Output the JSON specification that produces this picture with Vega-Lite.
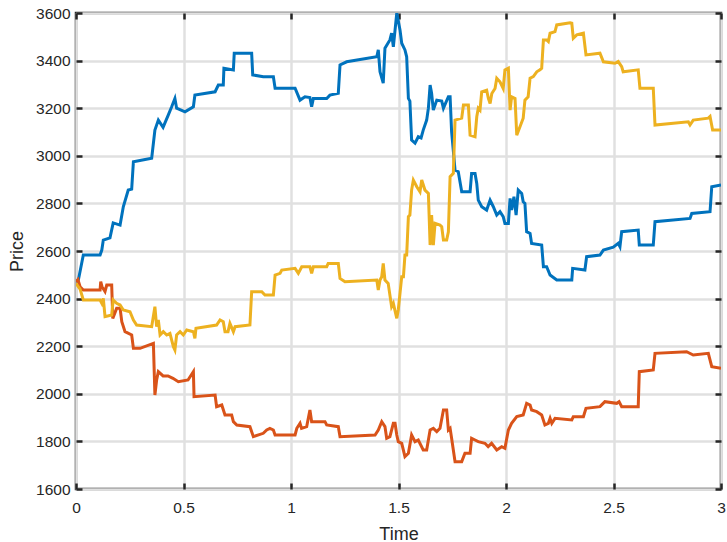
{
  "$schema": "https://vega.github.io/schema/vega-lite/v6.json",
  "width": 645,
  "height": 476,
  "autosize": {"type": "none"},
  "padding": {"left": 76, "top": 13, "right": 6, "bottom": 53},
  "background": "white",
  "config": {
    "view": {"stroke": "#262626", "strokeWidth": 2.5},
    "font": "Liberation Sans",
    "axis": {
      "labelFont": "Liberation Sans",
      "labelFontSize": 15.5,
      "labelColor": "#262626",
      "titleFont": "Liberation Sans",
      "titleFontSize": 18,
      "titleFontWeight": "normal",
      "titleColor": "#262626",
      "domain": false,
      "tickColor": "#262626",
      "tickWidth": 2.5,
      "tickSize": -6,
      "gridColor": "#e0e0e0",
      "gridWidth": 2.5
    }
  },
  "data": {
    "values": [
      {"s":"A","t":0,"p":2470},{"s":"A","t":0.011,"p":2478},{"s":"A","t":0.034,"p":2583},{"s":"A","t":0.112,"p":2583},{"s":"A","t":0.12,"p":2604},{"s":"A","t":0.127,"p":2646},{"s":"A","t":0.158,"p":2655},{"s":"A","t":0.173,"p":2718},{"s":"A","t":0.205,"p":2709},{"s":"A","t":0.22,"p":2786},{"s":"A","t":0.243,"p":2856},{"s":"A","t":0.259,"p":2860},{"s":"A","t":0.267,"p":2975},{"s":"A","t":0.352,"p":2990},{"s":"A","t":0.367,"p":3108},{"s":"A","t":0.383,"p":3150},{"s":"A","t":0.405,"p":3120},{"s":"A","t":0.429,"p":3171},{"s":"A","t":0.445,"p":3206},{"s":"A","t":0.46,"p":3241},{"s":"A","t":0.468,"p":3200},{"s":"A","t":0.507,"p":3185},{"s":"A","t":0.546,"p":3206},{"s":"A","t":0.553,"p":3255},{"s":"A","t":0.647,"p":3269},{"s":"A","t":0.662,"p":3297},{"s":"A","t":0.685,"p":3297},{"s":"A","t":0.688,"p":3368},{"s":"A","t":0.732,"p":3361},{"s":"A","t":0.736,"p":3431},{"s":"A","t":0.817,"p":3431},{"s":"A","t":0.822,"p":3340},{"s":"A","t":0.871,"p":3332},{"s":"A","t":0.918,"p":3332},{"s":"A","t":0.926,"p":3284},{"s":"A","t":1.019,"p":3284},{"s":"A","t":1.042,"p":3234},{"s":"A","t":1.065,"p":3248},{"s":"A","t":1.088,"p":3245},{"s":"A","t":1.096,"p":3206},{"s":"A","t":1.104,"p":3241},{"s":"A","t":1.166,"p":3241},{"s":"A","t":1.181,"p":3255},{"s":"A","t":1.22,"p":3263},{"s":"A","t":1.228,"p":3382},{"s":"A","t":1.259,"p":3395},{"s":"A","t":1.399,"p":3416},{"s":"A","t":1.406,"p":3445},{"s":"A","t":1.414,"p":3353},{"s":"A","t":1.429,"p":3305},{"s":"A","t":1.437,"p":3452},{"s":"A","t":1.46,"p":3487},{"s":"A","t":1.468,"p":3515},{"s":"A","t":1.476,"p":3458},{"s":"A","t":1.492,"p":3600},{"s":"A","t":1.507,"p":3529},{"s":"A","t":1.515,"p":3473},{"s":"A","t":1.53,"p":3445},{"s":"A","t":1.538,"p":3416},{"s":"A","t":1.546,"p":3241},{"s":"A","t":1.553,"p":3230},{"s":"A","t":1.561,"p":3066},{"s":"A","t":1.577,"p":3053},{"s":"A","t":1.592,"p":3080},{"s":"A","t":1.605,"p":3075},{"s":"A","t":1.615,"p":3108},{"s":"A","t":1.631,"p":3150},{"s":"A","t":1.639,"p":3200},{"s":"A","t":1.647,"p":3297},{"s":"A","t":1.654,"p":3263},{"s":"A","t":1.662,"p":3192},{"s":"A","t":1.678,"p":3234},{"s":"A","t":1.701,"p":3230},{"s":"A","t":1.709,"p":3200},{"s":"A","t":1.732,"p":3248},{"s":"A","t":1.74,"p":3248},{"s":"A","t":1.747,"p":3101},{"s":"A","t":1.763,"p":2940},{"s":"A","t":1.778,"p":2933},{"s":"A","t":1.794,"p":2849},{"s":"A","t":1.833,"p":2849},{"s":"A","t":1.84,"p":2926},{"s":"A","t":1.856,"p":2926},{"s":"A","t":1.864,"p":2884},{"s":"A","t":1.871,"p":2814},{"s":"A","t":1.887,"p":2786},{"s":"A","t":1.91,"p":2772},{"s":"A","t":1.926,"p":2814},{"s":"A","t":1.941,"p":2786},{"s":"A","t":1.957,"p":2751},{"s":"A","t":1.972,"p":2765},{"s":"A","t":1.987,"p":2744},{"s":"A","t":1.995,"p":2716},{"s":"A","t":2.011,"p":2716},{"s":"A","t":2.019,"p":2821},{"s":"A","t":2.026,"p":2772},{"s":"A","t":2.037,"p":2828},{"s":"A","t":2.047,"p":2751},{"s":"A","t":2.057,"p":2856},{"s":"A","t":2.073,"p":2842},{"s":"A","t":2.08,"p":2807},{"s":"A","t":2.088,"p":2800},{"s":"A","t":2.096,"p":2681},{"s":"A","t":2.112,"p":2674},{"s":"A","t":2.119,"p":2632},{"s":"A","t":2.166,"p":2625},{"s":"A","t":2.174,"p":2534},{"s":"A","t":2.189,"p":2534},{"s":"A","t":2.205,"p":2499},{"s":"A","t":2.236,"p":2478},{"s":"A","t":2.306,"p":2478},{"s":"A","t":2.31,"p":2527},{"s":"A","t":2.367,"p":2520},{"s":"A","t":2.375,"p":2576},{"s":"A","t":2.437,"p":2583},{"s":"A","t":2.453,"p":2604},{"s":"A","t":2.499,"p":2616},{"s":"A","t":2.522,"p":2632},{"s":"A","t":2.53,"p":2618},{"s":"A","t":2.538,"p":2681},{"s":"A","t":2.615,"p":2688},{"s":"A","t":2.62,"p":2625},{"s":"A","t":2.685,"p":2625},{"s":"A","t":2.693,"p":2723},{"s":"A","t":2.856,"p":2737},{"s":"A","t":2.864,"p":2758},{"s":"A","t":2.949,"p":2765},{"s":"A","t":2.957,"p":2870},{"s":"A","t":3.0,"p":2877},

      {"s":"B","t":0,"p":2470},{"s":"B","t":0.009,"p":2480},{"s":"B","t":0.019,"p":2450},{"s":"B","t":0.034,"p":2436},{"s":"B","t":0.112,"p":2436},{"s":"B","t":0.115,"p":2471},{"s":"B","t":0.121,"p":2450},{"s":"B","t":0.135,"p":2430},{"s":"B","t":0.143,"p":2457},{"s":"B","t":0.166,"p":2457},{"s":"B","t":0.171,"p":2317},{"s":"B","t":0.189,"p":2359},{"s":"B","t":0.205,"p":2359},{"s":"B","t":0.213,"p":2303},{"s":"B","t":0.228,"p":2261},{"s":"B","t":0.259,"p":2247},{"s":"B","t":0.267,"p":2191},{"s":"B","t":0.298,"p":2191},{"s":"B","t":0.36,"p":2212},{"s":"B","t":0.367,"p":1995},{"s":"B","t":0.375,"p":2058},{"s":"B","t":0.383,"p":2093},{"s":"B","t":0.405,"p":2075},{"s":"B","t":0.428,"p":2075},{"s":"B","t":0.451,"p":2065},{"s":"B","t":0.476,"p":2051},{"s":"B","t":0.521,"p":2058},{"s":"B","t":0.546,"p":2093},{"s":"B","t":0.549,"p":1988},{"s":"B","t":0.647,"p":1995},{"s":"B","t":0.654,"p":1946},{"s":"B","t":0.678,"p":1953},{"s":"B","t":0.693,"p":1911},{"s":"B","t":0.724,"p":1911},{"s":"B","t":0.732,"p":1883},{"s":"B","t":0.748,"p":1869},{"s":"B","t":0.809,"p":1862},{"s":"B","t":0.825,"p":1820},{"s":"B","t":0.871,"p":1834},{"s":"B","t":0.887,"p":1848},{"s":"B","t":0.902,"p":1855},{"s":"B","t":0.918,"p":1848},{"s":"B","t":0.926,"p":1827},{"s":"B","t":1.019,"p":1827},{"s":"B","t":1.027,"p":1855},{"s":"B","t":1.042,"p":1876},{"s":"B","t":1.049,"p":1855},{"s":"B","t":1.073,"p":1862},{"s":"B","t":1.088,"p":1932},{"s":"B","t":1.096,"p":1883},{"s":"B","t":1.158,"p":1883},{"s":"B","t":1.166,"p":1869},{"s":"B","t":1.22,"p":1862},{"s":"B","t":1.228,"p":1820},{"s":"B","t":1.391,"p":1827},{"s":"B","t":1.406,"p":1848},{"s":"B","t":1.422,"p":1883},{"s":"B","t":1.437,"p":1862},{"s":"B","t":1.445,"p":1813},{"s":"B","t":1.46,"p":1820},{"s":"B","t":1.476,"p":1876},{"s":"B","t":1.484,"p":1876},{"s":"B","t":1.492,"p":1827},{"s":"B","t":1.499,"p":1799},{"s":"B","t":1.515,"p":1792},{"s":"B","t":1.53,"p":1736},{"s":"B","t":1.546,"p":1750},{"s":"B","t":1.561,"p":1827},{"s":"B","t":1.577,"p":1799},{"s":"B","t":1.592,"p":1806},{"s":"B","t":1.615,"p":1764},{"s":"B","t":1.631,"p":1764},{"s":"B","t":1.647,"p":1848},{"s":"B","t":1.662,"p":1855},{"s":"B","t":1.678,"p":1841},{"s":"B","t":1.693,"p":1855},{"s":"B","t":1.709,"p":1932},{"s":"B","t":1.724,"p":1932},{"s":"B","t":1.732,"p":1848},{"s":"B","t":1.74,"p":1855},{"s":"B","t":1.747,"p":1813},{"s":"B","t":1.763,"p":1715},{"s":"B","t":1.794,"p":1715},{"s":"B","t":1.809,"p":1750},{"s":"B","t":1.833,"p":1750},{"s":"B","t":1.84,"p":1813},{"s":"B","t":1.856,"p":1806},{"s":"B","t":1.871,"p":1799},{"s":"B","t":1.902,"p":1792},{"s":"B","t":1.917,"p":1778},{"s":"B","t":1.933,"p":1792},{"s":"B","t":1.957,"p":1764},{"s":"B","t":1.98,"p":1778},{"s":"B","t":1.995,"p":1771},{"s":"B","t":2.011,"p":1848},{"s":"B","t":2.026,"p":1876},{"s":"B","t":2.05,"p":1904},{"s":"B","t":2.08,"p":1911},{"s":"B","t":2.096,"p":1960},{"s":"B","t":2.112,"p":1953},{"s":"B","t":2.119,"p":1932},{"s":"B","t":2.143,"p":1925},{"s":"B","t":2.166,"p":1911},{"s":"B","t":2.181,"p":1869},{"s":"B","t":2.197,"p":1876},{"s":"B","t":2.205,"p":1897},{"s":"B","t":2.213,"p":1876},{"s":"B","t":2.228,"p":1897},{"s":"B","t":2.306,"p":1890},{"s":"B","t":2.313,"p":1904},{"s":"B","t":2.36,"p":1904},{"s":"B","t":2.372,"p":1939},{"s":"B","t":2.437,"p":1946},{"s":"B","t":2.46,"p":1967},{"s":"B","t":2.515,"p":1960},{"s":"B","t":2.526,"p":1967},{"s":"B","t":2.538,"p":1946},{"s":"B","t":2.615,"p":1946},{"s":"B","t":2.62,"p":2093},{"s":"B","t":2.685,"p":2100},{"s":"B","t":2.693,"p":2170},{"s":"B","t":2.84,"p":2177},{"s":"B","t":2.871,"p":2163},{"s":"B","t":2.941,"p":2170},{"s":"B","t":2.957,"p":2114},{"s":"B","t":3.0,"p":2107},

      {"s":"C","t":0,"p":2464},{"s":"C","t":0.019,"p":2440},{"s":"C","t":0.034,"p":2394},{"s":"C","t":0.112,"p":2394},{"s":"C","t":0.12,"p":2380},{"s":"C","t":0.127,"p":2401},{"s":"C","t":0.135,"p":2324},{"s":"C","t":0.166,"p":2331},{"s":"C","t":0.173,"p":2394},{"s":"C","t":0.189,"p":2380},{"s":"C","t":0.205,"p":2373},{"s":"C","t":0.22,"p":2352},{"s":"C","t":0.251,"p":2345},{"s":"C","t":0.267,"p":2310},{"s":"C","t":0.282,"p":2289},{"s":"C","t":0.352,"p":2282},{"s":"C","t":0.367,"p":2366},{"s":"C","t":0.375,"p":2282},{"s":"C","t":0.383,"p":2310},{"s":"C","t":0.391,"p":2247},{"s":"C","t":0.406,"p":2261},{"s":"C","t":0.422,"p":2247},{"s":"C","t":0.437,"p":2254},{"s":"C","t":0.453,"p":2198},{"s":"C","t":0.46,"p":2184},{"s":"C","t":0.468,"p":2247},{"s":"C","t":0.484,"p":2261},{"s":"C","t":0.499,"p":2247},{"s":"C","t":0.515,"p":2268},{"s":"C","t":0.546,"p":2261},{"s":"C","t":0.553,"p":2233},{"s":"C","t":0.558,"p":2275},{"s":"C","t":0.654,"p":2289},{"s":"C","t":0.67,"p":2310},{"s":"C","t":0.685,"p":2303},{"s":"C","t":0.693,"p":2261},{"s":"C","t":0.707,"p":2261},{"s":"C","t":0.716,"p":2296},{"s":"C","t":0.732,"p":2261},{"s":"C","t":0.74,"p":2282},{"s":"C","t":0.809,"p":2289},{"s":"C","t":0.817,"p":2429},{"s":"C","t":0.864,"p":2429},{"s":"C","t":0.879,"p":2415},{"s":"C","t":0.918,"p":2415},{"s":"C","t":0.926,"p":2499},{"s":"C","t":0.949,"p":2506},{"s":"C","t":0.957,"p":2520},{"s":"C","t":1.019,"p":2527},{"s":"C","t":1.034,"p":2506},{"s":"C","t":1.05,"p":2534},{"s":"C","t":1.088,"p":2534},{"s":"C","t":1.096,"p":2506},{"s":"C","t":1.104,"p":2534},{"s":"C","t":1.166,"p":2534},{"s":"C","t":1.173,"p":2548},{"s":"C","t":1.22,"p":2548},{"s":"C","t":1.228,"p":2485},{"s":"C","t":1.251,"p":2471},{"s":"C","t":1.399,"p":2478},{"s":"C","t":1.406,"p":2436},{"s":"C","t":1.414,"p":2478},{"s":"C","t":1.422,"p":2492},{"s":"C","t":1.429,"p":2548},{"s":"C","t":1.437,"p":2478},{"s":"C","t":1.452,"p":2464},{"s":"C","t":1.468,"p":2366},{"s":"C","t":1.476,"p":2380},{"s":"C","t":1.492,"p":2317},{"s":"C","t":1.499,"p":2352},{"s":"C","t":1.515,"p":2492},{"s":"C","t":1.523,"p":2492},{"s":"C","t":1.53,"p":2583},{"s":"C","t":1.538,"p":2583},{"s":"C","t":1.546,"p":2744},{"s":"C","t":1.553,"p":2751},{"s":"C","t":1.561,"p":2856},{"s":"C","t":1.569,"p":2898},{"s":"C","t":1.585,"p":2870},{"s":"C","t":1.6,"p":2849},{"s":"C","t":1.608,"p":2898},{"s":"C","t":1.623,"p":2856},{"s":"C","t":1.639,"p":2842},{"s":"C","t":1.647,"p":2625},{"s":"C","t":1.654,"p":2751},{"s":"C","t":1.662,"p":2625},{"s":"C","t":1.67,"p":2716},{"s":"C","t":1.693,"p":2709},{"s":"C","t":1.701,"p":2702},{"s":"C","t":1.709,"p":2646},{"s":"C","t":1.724,"p":2646},{"s":"C","t":1.732,"p":2681},{"s":"C","t":1.74,"p":2912},{"s":"C","t":1.755,"p":2926},{"s":"C","t":1.763,"p":3150},{"s":"C","t":1.794,"p":3158},{"s":"C","t":1.802,"p":3213},{"s":"C","t":1.825,"p":3213},{"s":"C","t":1.833,"p":3087},{"s":"C","t":1.856,"p":3080},{"s":"C","t":1.864,"p":3164},{"s":"C","t":1.871,"p":3200},{"s":"C","t":1.879,"p":3192},{"s":"C","t":1.887,"p":3269},{"s":"C","t":1.91,"p":3276},{"s":"C","t":1.918,"p":3241},{"s":"C","t":1.926,"p":3220},{"s":"C","t":1.934,"p":3262},{"s":"C","t":1.949,"p":3283},{"s":"C","t":1.957,"p":3326},{"s":"C","t":1.972,"p":3311},{"s":"C","t":1.987,"p":3283},{"s":"C","t":1.995,"p":3361},{"s":"C","t":2.011,"p":3368},{"s":"C","t":2.019,"p":3192},{"s":"C","t":2.026,"p":3248},{"s":"C","t":2.042,"p":3241},{"s":"C","t":2.05,"p":3087},{"s":"C","t":2.065,"p":3122},{"s":"C","t":2.08,"p":3158},{"s":"C","t":2.088,"p":3234},{"s":"C","t":2.103,"p":3248},{"s":"C","t":2.112,"p":3326},{"s":"C","t":2.127,"p":3333},{"s":"C","t":2.143,"p":3353},{"s":"C","t":2.158,"p":3361},{"s":"C","t":2.166,"p":3368},{"s":"C","t":2.174,"p":3487},{"s":"C","t":2.189,"p":3487},{"s":"C","t":2.197,"p":3480},{"s":"C","t":2.205,"p":3515},{"s":"C","t":2.228,"p":3522},{"s":"C","t":2.236,"p":3550},{"s":"C","t":2.298,"p":3559},{"s":"C","t":2.306,"p":3557},{"s":"C","t":2.313,"p":3494},{"s":"C","t":2.329,"p":3508},{"s":"C","t":2.36,"p":3515},{"s":"C","t":2.372,"p":3424},{"s":"C","t":2.437,"p":3431},{"s":"C","t":2.453,"p":3395},{"s":"C","t":2.507,"p":3389},{"s":"C","t":2.522,"p":3396},{"s":"C","t":2.538,"p":3375},{"s":"C","t":2.545,"p":3353},{"s":"C","t":2.615,"p":3361},{"s":"C","t":2.623,"p":3284},{"s":"C","t":2.685,"p":3284},{"s":"C","t":2.693,"p":3129},{"s":"C","t":2.848,"p":3143},{"s":"C","t":2.856,"p":3130},{"s":"C","t":2.871,"p":3150},{"s":"C","t":2.941,"p":3158},{"s":"C","t":2.949,"p":3165},{"s":"C","t":2.961,"p":3108},{"s":"C","t":3.0,"p":3108}
    ]
  },
  "layer": [
    {
      "mark": {"type": "line", "strokeWidth": 3, "strokeJoin": "miter", "clip": true},
      "encoding": {
        "x": {"field": "t", "type": "quantitative",
          "scale": {"domain": [0, 3], "nice": false, "zero": false},
          "axis": {"title": "Time", "values": [0, 0.5, 1, 1.5, 2, 2.5, 3], "format": "~g", "labelPadding": 17, "titleY": 50, "titleBaseline": "alphabetic", "labelFlush": false}},
        "y": {"field": "p", "type": "quantitative",
          "scale": {"domain": [1600, 3600], "nice": false, "zero": false},
          "axis": {"title": "Price", "values": [1600, 1800, 2000, 2200, 2400, 2600, 2800, 3000, 3200, 3400, 3600], "format": "d", "labelPadding": 12, "titleX": -54, "titleBaseline": "alphabetic", "labelFlush": false}},
        "color": {"field": "s", "type": "nominal",
          "scale": {"domain": ["A", "B", "C"], "range": ["#0072BD", "#D95319", "#EDB120"]},
          "legend": null}
      }
    },
    {
      "mark": {"type": "line", "opacity": 0},
      "encoding": {
        "x": {"field": "t", "type": "quantitative",
          "scale": {"domain": [0, 3], "nice": false, "zero": false},
          "axis": {"orient": "top", "title": null, "labels": false, "grid": false, "values": [0, 0.5, 1, 1.5, 2, 2.5, 3]}},
        "y": {"field": "p", "type": "quantitative",
          "scale": {"domain": [1600, 3600], "nice": false, "zero": false},
          "axis": {"orient": "right", "title": null, "labels": false, "grid": false, "values": [1600, 1800, 2000, 2200, 2400, 2600, 2800, 3000, 3200, 3400, 3600]}},
        "detail": {"field": "s", "type": "nominal"}
      }
    }
  ],
  "resolve": {"axis": {"x": "independent", "y": "independent"}}
}
